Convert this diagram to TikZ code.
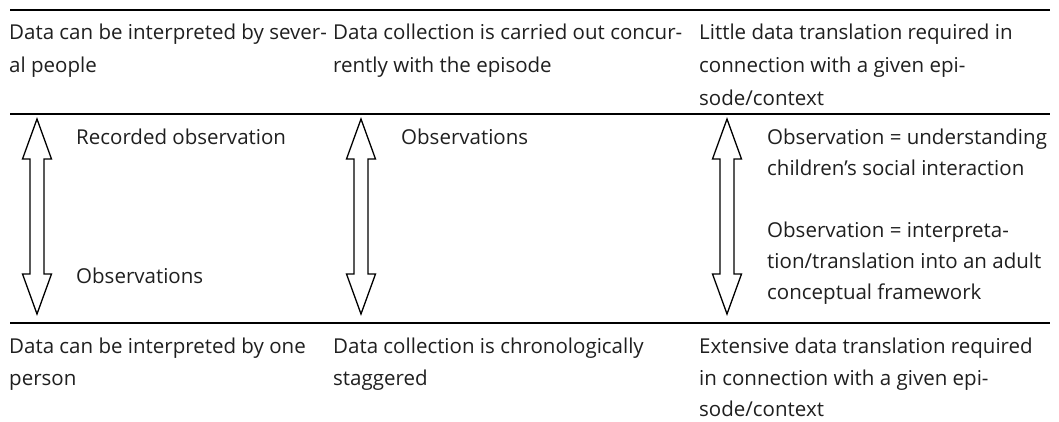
\documentclass[tikz,border=0pt]{standalone}
\usepackage{fontspec}
\setmainfont{Open Sans}
\begin{document}
\begin{tikzpicture}[x=1pt,y=-1pt,
  txt/.style={anchor=base west,inner sep=0pt,font=\fontsize{20.5}{31}\selectfont,text=black!88},
  rule/.style={line width=1.3pt},
  dblarrow/.pic={\draw[line width=1.3pt,line join=miter]
     (0,119) -- (14.5,159) -- (7,159) -- (7,274) -- (14.5,274) -- (0,314)
     -- (-14.5,274) -- (-7,274) -- (-7,159) -- (-14.5,159) -- cycle;}]
\useasboundingbox (0,0) rectangle (1059,421);
% rules
\coordinate (r1a) at (10,10);   \coordinate (r1b) at (1050,10);
\coordinate (r2a) at (10,114);  \coordinate (r2b) at (1050,114);
\coordinate (r3a) at (10,323);  \coordinate (r3b) at (1050,323);
\draw[rule] (r1a) -- (r1b);
\draw[rule] (r2a) -- (r2b);
\draw[rule] (r3a) -- (r3b);
% top row
\node[txt] (t1a) at (9,39) {Data can be interpreted by sever-};
\node[txt] (t1b) at (9,72) {al people};
\node[txt] (t2a) at (333,39) {Data collection is carried out concur-};
\node[txt] (t2b) at (333,72) {rently with the episode};
\node[txt] (t3a) at (699,39) {Little data translation required in};
\node[txt] (t3b) at (699,72) {connection with a given epi-};
\node[txt] (t3c) at (699,105) {sode/context};
% middle row
\pic at (37,0) {dblarrow};
\pic at (361,0) {dblarrow};
\pic at (727,0) {dblarrow};
\node[txt] (m1a) at (76,144) {Recorded observation};
\node[txt] (m1b) at (76,283) {Observations};
\node[txt] (m2a) at (401,144) {Observations};
\node[txt] (m3a) at (767,144) {Observation = understanding};
\node[txt] (m3b) at (767,175) {children’s social interaction};
\node[txt] (m3c) at (767,237) {Observation = interpreta-};
\node[txt] (m3d) at (767,268) {tion/translation into an adult};
\node[txt] (m3e) at (767,299) {conceptual framework};
% bottom row
\node[txt] (b1a) at (9,353) {Data can be interpreted by one};
\node[txt] (b1b) at (9,385) {person};
\node[txt] (b2a) at (333,353) {Data collection is chronologically};
\node[txt] (b2b) at (333,385) {staggered};
\node[txt] (b3a) at (699,353) {Extensive data translation required};
\node[txt] (b3b) at (699,385) {in connection with a given epi-};
\node[txt] (b3c) at (699,416.5) {sode/context};
\end{tikzpicture}
\end{document}
